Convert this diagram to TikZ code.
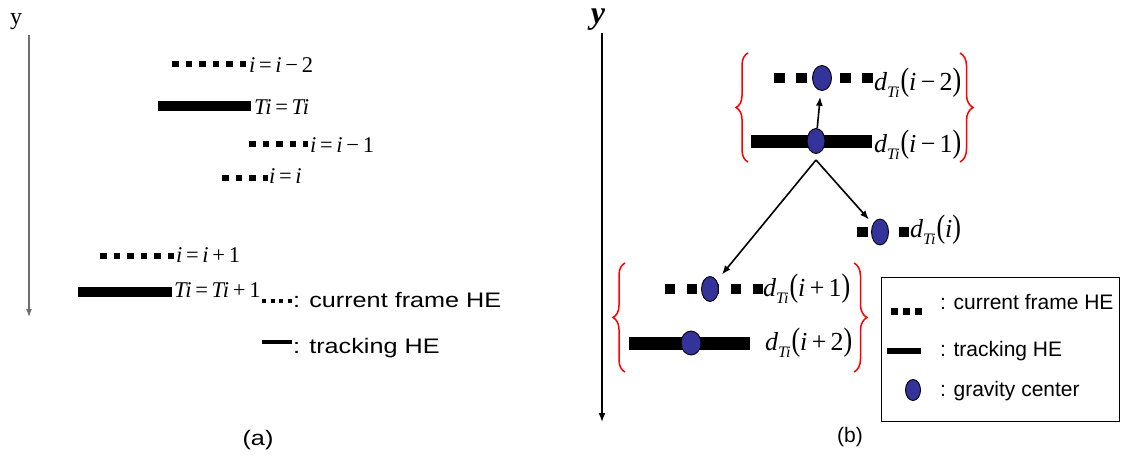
\documentclass[tikz,border=0pt]{standalone}
\usepackage{fontspec}
\setmainfont{Liberation Serif}
\setsansfont{Liberation Sans}
\usetikzlibrary{arrows.meta,decorations.pathreplacing,shapes.geometric}
\definecolor{gcfill}{RGB}{51,51,153}
\definecolor{bracered}{RGB}{255,0,0}
\definecolor{axisgray}{RGB}{110,110,110}
\newcommand\bigpar[1]{\raisebox{-0.02em}{\scalebox{1}[1.25]{#1}}}
\newcommand\dti[1]{\textit{d}\raisebox{-0.3em}{\fontsize{16}{16}\selectfont\textit{Ti}}\kern1pt\bigpar{(}\textit{i}#1\bigpar{)}}
\newcommand\stra[1]{\scalebox{1.2}[1]{#1}}
\begin{document}
\begin{tikzpicture}[x=1pt,y=-1pt,
  lab/.style={anchor=base west,inner sep=0pt,outer sep=0pt},
  mathA/.style={lab,font=\fontsize{22.5}{22.5}\selectfont},
  mathB/.style={lab,font=\fontsize{26}{26}\selectfont},
  sansA/.style={lab,font=\sffamily\fontsize{21}{21}\selectfont},
  sansB/.style={lab,font=\sffamily\fontsize{21}{21}\selectfont},
  sqA/.style={line width=6.5pt,dash pattern=on 6.5pt off 7pt},
  barA/.style={line width=9.5pt},
  sqB/.style={line width=10pt,dash pattern=on 11pt off 11pt},
  barB/.style={line width=13pt},
  gcen/.style={ellipse,draw=black,line width=0.9pt,fill=gcfill,inner sep=0pt},
  arr/.style={line width=1.6pt,-{Latex[length=9pt,width=7pt]}},
  brc/.style={draw=bracered,line width=1.5pt,decorate,decoration={brace,amplitude=#1}},
]
\useasboundingbox (0,0) rectangle (1121,460);

% ---------------- panel (a) ----------------
\node[font=\fontsize{24}{24}\selectfont,inner sep=0pt] (ya) at (16,22) {y};
\coordinate (atop) at (29,35);
\coordinate (abot) at (29,317);
\draw[axisgray,line width=1.2pt,-{Latex[length=8pt,width=6pt]}] (atop) -- (abot);

\draw[sqA] (172,64) -- (247,64);
\node[mathA] (a1) at (249,72) {\textit{i}\,=\,\textit{i}\,−\,2};
\draw[barA] (158,106) -- (251,106);
\node[mathA] (a2) at (254,114) {\textit{Ti}\,=\,\textit{Ti}};
\draw[sqA] (249,144) -- (308,144);
\node[mathA] (a3) at (310,152) {\textit{i}\,=\,\textit{i}\,−\,1};
\draw[sqA] (222,178) -- (268,178);
\node[mathA] (a4) at (269,183) {\textit{i}\,=\,\textit{i}};
\draw[sqA] (100,256) -- (175,256);
\node[mathA] (a5) at (176,262) {\textit{i}\,=\,\textit{i}\,+\,1};
\draw[barA] (78,292) -- (172,292);
\node[mathA] (a6) at (174,297) {\textit{Ti}\,=\,\textit{Ti}\,+\,1};
\draw[line width=4pt,dash pattern=on 4pt off 4.5pt] (262,301) -- (293,301);
\node[sansA] (la1) at (293,307) {\stra{: current frame HE}};
\draw[line width=3.5pt] (262,342) -- (292,342);
\node[sansA] (la2) at (293,353) {\stra{: tracking HE}};
\node[font=\sffamily\fontsize{21}{21}\selectfont,inner sep=0pt] (capa) at (258,440) {\stra{(a)}};

% ---------------- panel (b) ----------------
\node[font=\bfseries\itshape\fontsize{32}{32}\selectfont,inner sep=0pt] (yb) at (598,20) {y};
\coordinate (btop) at (602,33);
\coordinate (bbot) at (602,422);
\draw[line width=1.6pt,-{Latex[length=9pt,width=7pt]}] (btop) -- (bbot);

% top group
\draw[brc=12pt] (748,162) -- (748,53);
\draw[brc=13pt] (960,53) -- (960,162);
\draw[sqB] (774,78) -- (874,78);
\node[gcen,minimum width=19pt,minimum height=25pt] (e2) at (822,78) {};
\node[mathB] (t2) at (874,90) {\dti{\,−\,2}};
\draw[barB] (751,141) -- (872,141);
\node[gcen,minimum width=18pt,minimum height=25pt] (e1) at (816,141) {};
\node[mathB] (t1) at (874,152) {\dti{\,−\,1}};

% middle
\fill (857,227) rectangle (868,237);
\fill (899,227) rectangle (909,237);
\node[gcen,minimum width=17pt,minimum height=26pt] (e0) at (880,232) {};
\node[mathB] (t0) at (910,237) {\dti{}};

% lower group
\draw[brc=12pt] (625,372) -- (625,263);
\draw[brc=13pt] (854,263) -- (854,372);
\draw[line width=10pt,dash pattern=on 10pt off 12pt] (665,289) -- (764,289);
\node[gcen,minimum width=17pt,minimum height=25pt] (e3) at (710,289) {};
\node[mathB] (t3) at (763,296) {\dti{\,+\,1}};
\draw[barB] (629,343) -- (750,343);
\node[gcen,minimum width=20pt,minimum height=24pt] (e4) at (691,343) {};
\node[mathB] (t4) at (765,350) {\dti{\,+\,2}};

% arrows
\coordinate (apex) at (816,160);
\draw[arr,shorten >=6pt] (e1) -- (e2);
\draw[arr,shorten >=8pt] (apex) -- (e3);
\draw[arr,shorten >=6pt] (apex) -- (e0);

% legend
\node[draw,line width=1pt,minimum width=238pt,minimum height=144pt,inner sep=0pt] (leg) at (1000,349) {};
\draw[line width=7pt,dash pattern=on 7pt off 5pt] (891,311) -- (922,311);
\node[sansB] (lb1) at (940,309) {: current frame HE};
\draw[line width=6pt] (887,351) -- (921,351);
\node[sansB] (lb2) at (940,356) {: tracking HE};
\node[gcen,minimum width=15pt,minimum height=21pt] (lg) at (913,390) {};
\node[sansB] (lb3) at (940,396) {: gravity center};
\node[font=\sffamily\fontsize{21}{21}\selectfont,inner sep=0pt] (capb) at (850,437) {(b)};
\end{tikzpicture}
\end{document}
